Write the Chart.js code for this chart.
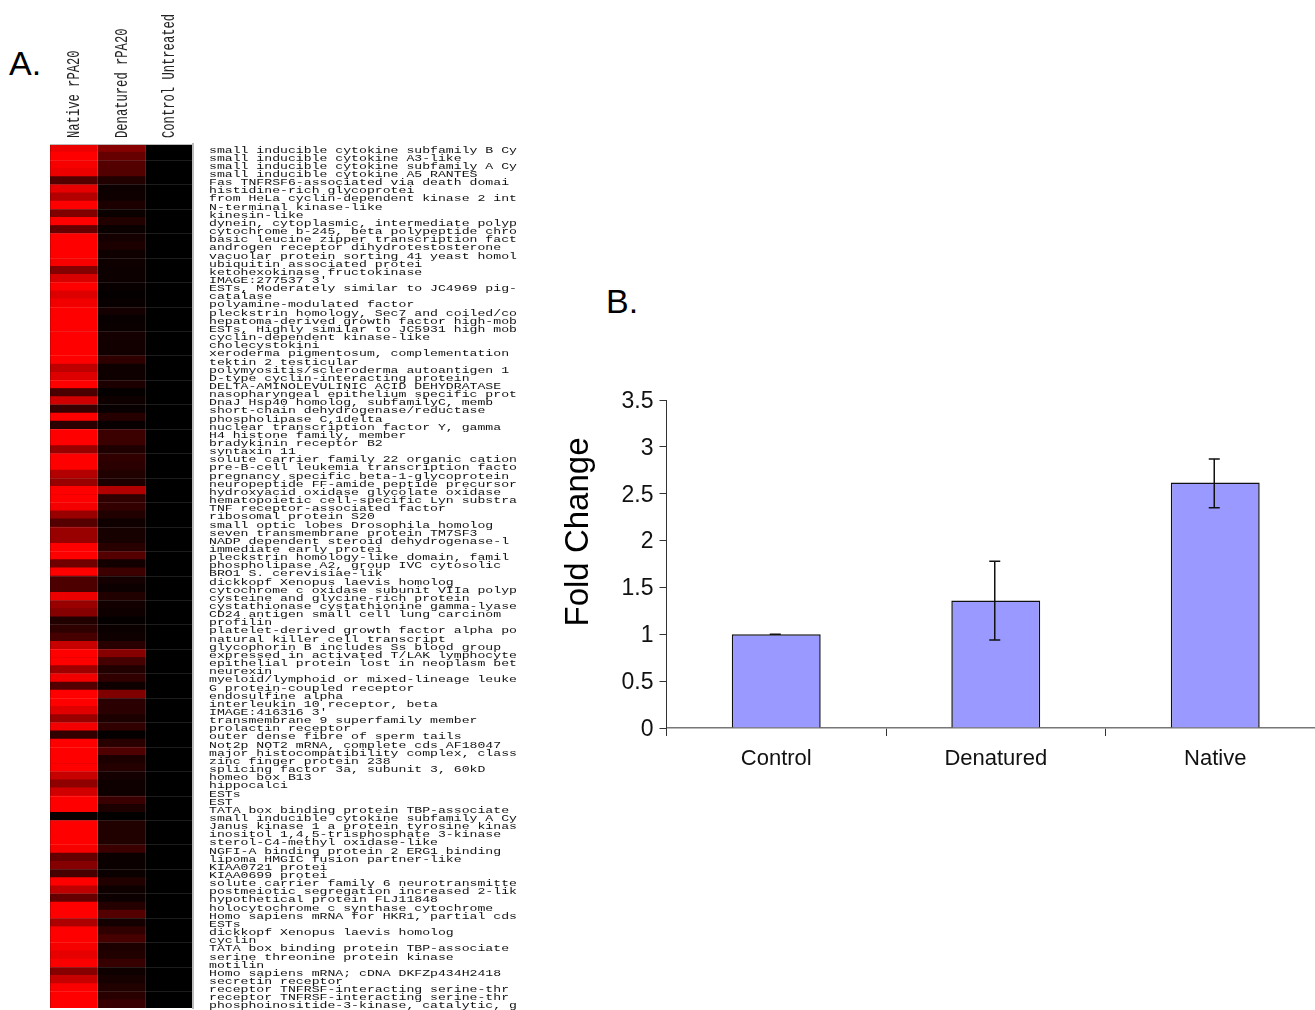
<!DOCTYPE html>
<html>
<head>
<meta charset="utf-8">
<title>Panels A and B</title>
<script src="https://cdn.jsdelivr.net/npm/chart.js@4"></script>
<style>
  html, body { margin: 0; background: #fff; overflow: hidden; width: 1315px; height: 1010px; }
  canvas { position: absolute; }
  #heatChart { left: 0; top: -100px; }
  #barChart { left: 545px; top: 380px; }
  .panel { position: absolute; font: 34px "Liberation Sans", sans-serif; color: #000; line-height: 1; }
</style>
</head>
<body>
<div class="panel" style="left:9px;top:46px">A.</div>
<div class="panel" style="left:606px;top:284px">B.</div>
<canvas id="heatChart" width="530" height="1130"></canvas>
<canvas id="barChart" width="780" height="430"></canvas>
<script>
const conditionLabels = ["Native rPA20", "Denatured rPA20", "Control Untreated"];

const geneLabels = [
  "small inducible cytokine subfamily B Cy", "small inducible cytokine A3-like",
  "small inducible cytokine subfamily A Cy", "small inducible cytokine A5 RANTES",
  "Fas TNFRSF6-associated via death domai", "histidine-rich glycoprotei",
  "from HeLa cyclin-dependent kinase 2 int", "N-terminal kinase-like",
  "kinesin-like", "dynein, cytoplasmic, intermediate polyp",
  "cytochrome b-245, beta polypeptide chro", "basic leucine zipper transcription fact",
  "androgen receptor dihydrotestosterone", "vacuolar protein sorting 41 yeast homol",
  "ubiquitin associated protei", "ketohexokinase fructokinase",
  "IMAGE:277537 3'", "ESTs, Moderately similar to JC4969 pig-",
  "catalase", "polyamine-modulated factor",
  "pleckstrin homology, Sec7 and coiled/co", "hepatoma-derived growth factor high-mob",
  "ESTs, Highly similar to JC5931 high mob", "cyclin-dependent kinase-like",
  "cholecystokini", "xeroderma pigmentosum, complementation",
  "tektin 2 testicular", "polymyositis/scleroderma autoantigen 1",
  "D-type cyclin-interacting protein", "DELTA-AMINOLEVULINIC ACID DEHYDRATASE",
  "nasopharyngeal epithelium specific prot", "DnaJ Hsp40 homolog, subfamilyC, memb",
  "short-chain dehydrogenase/reductase", "phospholipase C,1delta",
  "nuclear transcription factor Y, gamma", "H4 histone family, member",
  "bradykinin receptor B2", "syntaxin 11",
  "solute carrier family 22 organic cation", "pre-B-cell leukemia transcription facto",
  "pregnancy specific beta-1-glycoprotein", "neuropeptide FF-amide peptide precursor",
  "hydroxyacid oxidase glycolate oxidase", "hematopoietic cell-specific Lyn substra",
  "TNF receptor-associated factor", "ribosomal protein S20",
  "small optic lobes Drosophila homolog", "seven transmembrane protein TM7SF3",
  "NADP dependent steroid dehydrogenase-l", "immediate early protei",
  "pleckstrin homology-like domain, famil", "phospholipase A2, group IVC cytosolic",
  "BRO1 S. cerevisiae-lik", "dickkopf Xenopus laevis homolog",
  "cytochrome c oxidase subunit VIIa polyp", "cysteine and glycine-rich protein",
  "cystathionase cystathionine gamma-lyase", "CD24 antigen small cell lung carcinom",
  "profilin", "platelet-derived growth factor alpha po",
  "natural killer cell transcript", "glycophorin B includes Ss blood group",
  "expressed in activated T/LAK lymphocyte", "epithelial protein lost in neoplasm bet",
  "neurexin", "myeloid/lymphoid or mixed-lineage leuke",
  "G protein-coupled receptor", "endosulfine alpha",
  "interleukin 10 receptor, beta", "IMAGE:416316 3'",
  "transmembrane 9 superfamily member", "prolactin receptor",
  "outer dense fibre of sperm tails", "Not2p NOT2 mRNA, complete cds AF18047",
  "major histocompatibility complex, class", "zinc finger protein 238",
  "splicing factor 3a, subunit 3, 60kD", "homeo box B13",
  "hippocalci", "ESTs",
  "EST", "TATA box binding protein TBP-associate",
  "small inducible cytokine subfamily A Cy", "Janus kinase 1 a protein tyrosine kinas",
  "inositol 1,4,5-trisphosphate 3-kinase", "sterol-C4-methyl oxidase-like",
  "NGFI-A binding protein 2 ERG1 binding", "lipoma HMGIC fusion partner-like",
  "KIAA0721 protei", "KIAA0699 protei",
  "solute carrier family 6 neurotransmitte", "postmeiotic segregation increased 2-lik",
  "hypothetical protein FLJ11848", "holocytochrome c synthase cytochrome",
  "Homo sapiens mRNA for HKR1, partial cds", "ESTs",
  "dickkopf Xenopus laevis homolog", "cyclin",
  "TATA box binding protein TBP-associate", "serine threonine protein kinase",
  "motilin", "Homo sapiens mRNA; cDNA DKFZp434H2418",
  "secretin receptor", "receptor TNFRSF-interacting serine-thr",
  "receptor TNFRSF-interacting serine-thr", "phosphoinositide-3-kinase, catalytic, g"
];

// red level of each row, 0 = black, 1 = full red
const nativeValues = [
  .93, 1, .97, .93, .33, .9, .7, 1, .5, 1,
  .4, 1, 1, 1, .97, .52, .85, 1, .87, .95,
  1, 1, 1, 1, 1, 1, 1, .75, .87, 1,
  .29, .82, .22, 1, .17, 1, 1, .6, 1, 1,
  .7, .6, 1, 1, .96, .6, .33, .6, .6, 1,
  1, .44, 1, .3, .3, .93, .6, .52, .13, .18,
  .28, .78, 1, 1, .62, .95, .33, 1, 1, .88,
  .6, .96, .2, 1, 1, 1, 1, .78, .56, .82,
  1, 1, .04, 1, 1, 1, .97, .4, .52, .28,
  1, .75, .4, 1, 1, .68, 1, 1, .97, .9,
  .98, .53, .78, .98, 1, 1
];
const denaturedValues = [
  .53, .4, .33, .32, .13, .05, .06, .11, .04, .13,
  .04, .08, .11, .06, .06, .05, .05, .03, .02, .03,
  .08, .03, .04, .08, .07, .07, .18, .06, .06, .11,
  .02, .06, .03, .15, .03, .23, .23, .12, .19, .17,
  .13, .11, .69, .19, .2, .13, .06, .09, .09, .16,
  .33, .07, .24, .08, .05, .13, .07, .06, .02, .04,
  .06, .16, .53, .27, .13, .19, .06, .5, .17, .17,
  .11, .19, .02, .16, .31, .11, .14, .08, .06, .06,
  .22, .11, .01, .13, .13, .13, .23, .04, .04, .04,
  .13, .06, .05, .14, .33, .08, .19, .28, .11, .13,
  .21, .06, .09, .13, .16, .22
];
const controlValues = geneLabels.map(() => 0);

const barCategories = ["Control", "Denatured", "Native"];
const foldValues = [1, 1.36, 2.62];
const errorHigh = [1, 1.78, 2.87];
const errorLow = [1, 0.94, 2.35];

const FONT = "'Liberation Sans', Arial, sans-serif";
const MONO = "'Liberation Mono', monospace";

// run a scale draw step inside a canvas transform
function wrapStep(scale, step, setup) {
  const orig = scale[step];
  scale[step] = function (area) {
    const c = this.ctx;
    c.save();
    setup(c);
    orig.call(this, area);
    c.restore();
  };
}

const heatLabelStretch = {
  id: "heatLabelStretch",
  beforeDraw(chart) {
    if (chart.$wrapped) return;
    chart.$wrapped = true;
    wrapStep(chart.scales.y, "drawLabels", c => {
      c.beginPath();
      c.rect(205, 230, 312, 900);
      c.clip();
      c.translate(209, 2);
      c.scale(1.385, 1);
      c.translate(-209, 0);
    });
    wrapStep(chart.scales.x, "drawLabels", c => {
      c.translate(22, 238);
      c.scale(1, 0.676);
      c.translate(0, -238);
    });
  },
  beforeDatasetsDraw(chart) {
    const a = chart.chartArea;
    chart.ctx.fillStyle = "#000";
    chart.ctx.fillRect(a.left, a.top, a.width, a.height);
  }
};

function heatDataset(values) {
  return {
    data: values.map(() => 1),
    backgroundColor: values.map(v => `rgb(${Math.round(v * 255)},0,0)`),
    borderWidth: 0,
    barPercentage: 1,
    categoryPercentage: 1
  };
}

new Chart(document.getElementById("heatChart"), {
  type: "bar",
  plugins: [heatLabelStretch],
  data: {
    labels: geneLabels,
    datasets: [heatDataset(nativeValues), heatDataset(denaturedValues), heatDataset(controlValues)]
  },
  options: {
    indexAxis: "y",
    responsive: false,
    animation: false,
    layout: { padding: { left: 50, right: 0, top: 0, bottom: 22 } },
    plugins: { legend: { display: false }, tooltip: { enabled: false } },
    scales: {
      x: {
        position: "top",
        stacked: true,
        min: 0,
        max: 3,
        afterFit(s) { s.height = 244; },
        border: { color: "#bbb", width: 1, z: 2 },
        grid: {
          z: 1,
          drawTicks: false,
          color: c => Number.isInteger(c.tick.value) && c.tick.value > 0 && c.tick.value < 3 ? "rgba(255,255,255,0.13)" : "rgba(0,0,0,0)"
        },
        ticks: {
          stepSize: 0.5,
          autoSkip: false,
          minRotation: 90,
          maxRotation: 90,
          padding: 6,
          color: "#222",
          font: { family: MONO, size: 18 },
          callback: v => Number.isInteger(v) ? "" : conditionLabels[v - 0.5]
        }
      },
      y: {
        position: "right",
        stacked: true,
        afterFit(s) { s.width = 337; },
        border: { color: "#bbb", width: 2, z: 2 },
        grid: {
          z: 1,
          drawTicks: false,
          offset: true,
          color: c => c.index % 3 === 2 ? "rgba(255,255,255,0.11)" : "rgba(0,0,0,0)"
        },
        ticks: {
          autoSkip: false,
          padding: 16,
          color: "#111",
          crossAlign: "near",
          font: { family: MONO, size: 9.5 }
        }
      }
    }
  }
});

const errorBars = {
  id: "errorBars",
  beforeDraw(chart) {
    if (chart.$wrapped) return;
    chart.$wrapped = true;
    wrapStep(chart.scales.y, "drawTitle", c => c.translate(0, -32));
    wrapStep(chart.scales.y, "drawLabels", c => c.translate(0, 1.5));
  },
  afterDatasetsDraw(chart) {
    const c = chart.ctx, x = chart.scales.x, y = chart.scales.y;
    c.save();
    c.strokeStyle = "#111";
    c.lineWidth = 1.5;
    barCategories.forEach((name, i) => {
      const px = x.getPixelForValue(i) - 1, hi = y.getPixelForValue(errorHigh[i]), lo = y.getPixelForValue(errorLow[i]);
      c.beginPath();
      c.moveTo(px, hi); c.lineTo(px, lo);
      c.moveTo(px - 5.5, hi); c.lineTo(px + 5.5, hi);
      c.moveTo(px - 5.5, lo); c.lineTo(px + 5.5, lo);
      c.stroke();
    });
    c.restore();
  }
};

new Chart(document.getElementById("barChart"), {
  type: "bar",
  plugins: [errorBars],
  data: {
    labels: barCategories,
    datasets: [{
      data: foldValues,
      backgroundColor: "#9999FF",
      borderColor: "#111",
      borderWidth: 1.5,
      barPercentage: 0.81,
      categoryPercentage: 0.5
    }]
  },
  options: {
    responsive: false,
    animation: false,
    layout: { padding: { top: 20, bottom: 0, left: 0, right: 0 } },
    plugins: { legend: { display: false }, tooltip: { enabled: false } },
    scales: {
      x: {
        afterFit(s) { s.height = 82; },
        border: { color: "#777", width: 1.5 },
        grid: { drawOnChartArea: false, offset: true, tickLength: 8, color: "#333" },
        ticks: { color: "#111", padding: 10, maxRotation: 0, font: { family: FONT, size: 22 } }
      },
      y: {
        min: 0,
        max: 3.5,
        afterFit(s) { s.width = 121.5; },
        border: { color: "#333", width: 1 },
        grid: { drawOnChartArea: false, tickLength: 7, color: "#333" },
        ticks: {
          stepSize: 0.5,
          padding: 6,
          color: "#111",
          font: { family: FONT, size: 23 },
          callback: v => String(v)
        },
        title: {
          display: true,
          text: "Fold Change",
          color: "#000",
          padding: { top: 14, bottom: 0 },
          font: { family: FONT, size: 33 }
        }
      }
    }
  }
});
</script>
</body>
</html>
